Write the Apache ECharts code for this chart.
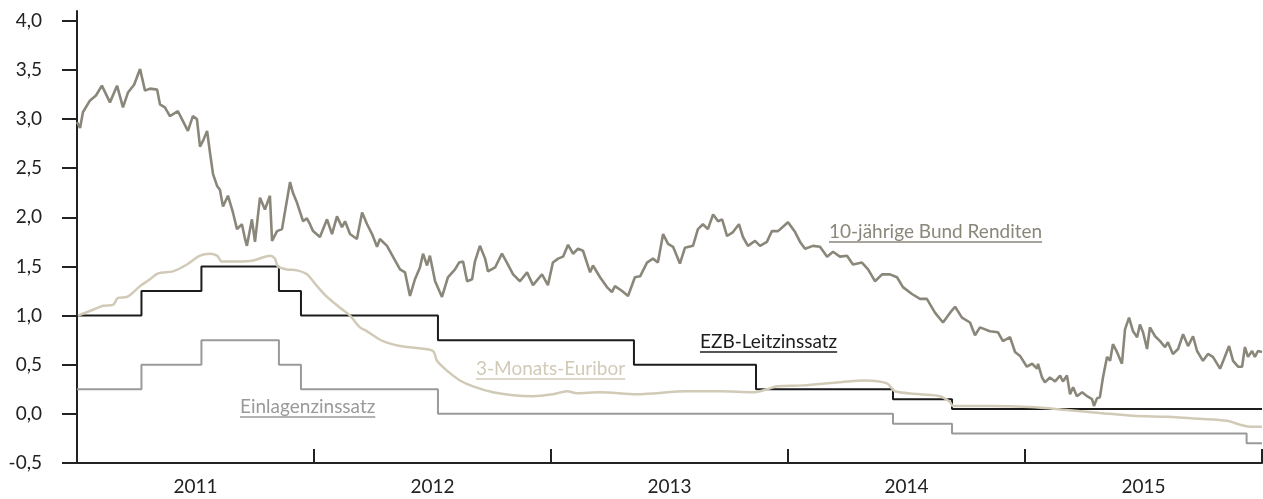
<!DOCTYPE html>
<html><head><meta charset="utf-8">
<script src="https://cdn.jsdelivr.net/npm/echarts@6/dist/echarts.min.js"></script>
<style>html,body{margin:0;padding:0;background:#fff}#c{width:1263px;height:499px}</style>
</head><body><div id="c"></div>
<script>
// ---- axis ticks / labels ----
const yTicks = [-0.5, 0, 0.5, 1, 1.5, 2, 2.5, 3, 3.5, 4];
const yearTicks = [2012, 2013, 2014, 2015, 2016];
const yearLabelPos = [2011.5, 2012.5, 2013.5, 2014.5, 2015.5];

// ---- 10-jährige Bund Renditen (decimal year, %) ----
const bundDates = [2011.000,2011.013,2011.025,2011.055,2011.080,2011.105,2011.139,2011.169,2011.194,2011.215,2011.241,2011.266,2011.287,2011.308,2011.338,2011.350,2011.371,2011.392,2011.426,2011.447,2011.468,2011.489,2011.506,2011.519,2011.532,2011.549,2011.561,2011.574,2011.591,2011.603,2011.616,2011.637,2011.658,2011.675,2011.696,2011.709,2011.717,2011.738,2011.751,2011.772,2011.793,2011.814,2011.823,2011.844,2011.865,2011.899,2011.911,2011.928,2011.954,2011.970,2011.983,2011.996,
2012.025,2012.055,2012.076,2012.097,2012.118,2012.131,2012.152,2012.181,2012.203,2012.224,2012.245,2012.266,2012.278,2012.308,2012.333,2012.363,2012.384,2012.405,2012.426,2012.447,2012.460,2012.477,2012.489,2012.511,2012.540,2012.565,2012.595,2012.612,2012.629,2012.646,2012.667,2012.679,2012.700,2012.722,2012.734,2012.764,2012.793,2012.814,2012.840,2012.869,2012.899,2012.924,2012.962,2012.987,
2013.008,2013.030,2013.051,2013.072,2013.093,2013.114,2013.135,2013.165,2013.177,2013.207,2013.236,2013.257,2013.270,2013.300,2013.325,2013.354,2013.376,2013.405,2013.430,2013.451,2013.473,2013.494,2013.515,2013.544,2013.565,2013.599,2013.620,2013.641,2013.662,2013.684,2013.705,2013.722,2013.743,2013.768,2013.793,2013.810,2013.831,2013.861,2013.882,2013.911,2013.932,2013.958,
2014.000,2014.030,2014.051,2014.072,2014.105,2014.135,2014.165,2014.190,2014.219,2014.249,2014.274,2014.312,2014.338,2014.367,2014.397,2014.430,2014.460,2014.485,2014.523,2014.557,2014.586,2014.620,2014.654,2014.684,2014.705,2014.734,2014.768,2014.789,2014.810,2014.852,2014.886,2014.907,2014.937,2014.958,2014.979,
2015.008,2015.030,2015.051,2015.055,2015.072,2015.084,2015.105,2015.127,2015.148,2015.160,2015.177,2015.190,2015.203,2015.219,2015.241,2015.262,2015.283,2015.291,2015.304,2015.316,2015.329,2015.346,2015.359,2015.371,2015.388,2015.409,2015.422,2015.439,2015.456,2015.473,2015.485,2015.498,2015.515,2015.527,2015.549,2015.570,2015.591,2015.603,2015.624,2015.646,2015.667,2015.688,2015.709,2015.726,2015.751,2015.772,2015.793,2015.823,2015.840,2015.861,2015.878,2015.899,2015.916,2015.928,2015.941,2015.958,2015.970,2015.983,2016.000];
const bundValues = [2.97,2.91,3.07,3.19,3.24,3.34,3.17,3.34,3.12,3.27,3.35,3.51,3.29,3.31,3.30,3.15,3.12,3.03,3.08,2.98,2.88,3.03,3.00,2.72,2.78,2.88,2.66,2.44,2.32,2.28,2.11,2.22,2.05,1.88,1.93,1.78,1.71,1.98,1.75,2.20,2.08,2.22,1.76,1.86,1.88,2.36,2.25,2.15,1.96,1.99,1.93,1.86,
1.80,1.98,1.83,2.01,1.90,1.96,1.83,1.78,2.05,1.93,1.83,1.70,1.78,1.71,1.60,1.47,1.44,1.20,1.37,1.49,1.63,1.51,1.61,1.35,1.19,1.39,1.47,1.54,1.55,1.35,1.37,1.55,1.71,1.58,1.45,1.49,1.63,1.54,1.42,1.35,1.44,1.31,1.42,1.31,
1.54,1.58,1.60,1.72,1.63,1.68,1.66,1.44,1.51,1.39,1.29,1.24,1.30,1.25,1.20,1.39,1.40,1.54,1.58,1.54,1.83,1.73,1.70,1.53,1.69,1.71,1.88,1.93,1.88,2.03,1.96,1.98,1.81,1.85,1.93,1.80,1.71,1.76,1.71,1.75,1.86,1.86,
1.95,1.85,1.75,1.68,1.71,1.70,1.60,1.65,1.60,1.61,1.52,1.54,1.47,1.35,1.42,1.42,1.39,1.29,1.22,1.17,1.17,1.03,0.93,1.03,1.09,0.98,0.93,0.80,0.88,0.84,0.83,0.74,0.78,0.63,0.59,
0.48,0.51,0.46,0.51,0.37,0.32,0.37,0.33,0.39,0.33,0.39,0.20,0.27,0.18,0.22,0.18,0.15,0.08,0.16,0.17,0.37,0.58,0.54,0.71,0.63,0.51,0.86,0.98,0.84,0.78,0.91,0.83,0.66,0.88,0.79,0.74,0.68,0.73,0.61,0.66,0.81,0.69,0.79,0.64,0.54,0.61,0.58,0.46,0.56,0.69,0.54,0.48,0.48,0.68,0.58,0.64,0.58,0.64,0.63];

// ---- 3-Monats-Euribor ----
const euriborDates = [2011.004,2011.068,2011.110,2011.152,2011.173,2011.211,2011.266,2011.308,2011.342,2011.405,2011.464,2011.519,2011.561,2011.591,2011.612,2011.675,2011.743,2011.814,2011.835,2011.848,2011.886,2011.928,2011.970,2012.013,2012.055,2012.110,2012.152,2012.194,2012.224,2012.291,2012.363,2012.435,2012.502,2012.519,2012.561,2012.616,2012.671,2012.755,2012.840,2012.924,2013.008,2013.068,2013.110,2013.207,2013.363,2013.574,2013.713,2013.852,2013.911,2013.954,2014.063,2014.207,2014.325,2014.418,2014.451,2014.557,2014.641,2014.684,2014.696,2014.840,2015.021,2015.177,2015.316,2015.456,2015.599,2015.738,2015.852,2015.907,2015.949,2016.000];
const euriborValues = [1.00,1.06,1.10,1.11,1.18,1.19,1.30,1.37,1.43,1.45,1.52,1.61,1.63,1.61,1.55,1.55,1.56,1.61,1.58,1.50,1.47,1.46,1.42,1.30,1.19,1.08,1.00,0.88,0.84,0.74,0.69,0.67,0.64,0.54,0.44,0.34,0.28,0.22,0.19,0.18,0.20,0.23,0.21,0.22,0.20,0.23,0.23,0.22,0.25,0.28,0.29,0.32,0.34,0.31,0.23,0.20,0.18,0.12,0.08,0.08,0.07,0.04,0.01,-0.02,-0.03,-0.05,-0.07,-0.11,-0.13,-0.13];

// ---- EZB-Leitzinssatz (step) ----
const ezbDates = [2011.000,2011.272,2011.525,2011.852,2011.945,2012.523,2013.350,2013.865,2014.443,2014.692,2016.000];
const ezbValues = [1.00,1.25,1.50,1.25,1.00,0.75,0.50,0.25,0.15,0.05,0.05];

// ---- Einlagenzinssatz (step) ----
const depositDates = [2011.000,2011.272,2011.525,2011.852,2011.945,2012.523,2014.443,2014.692,2015.935,2016.000];
const depositValues = [0.25,0.50,0.75,0.50,0.25,0.00,-0.10,-0.20,-0.30,-0.30];

const labelTexts = ['10-jährige Bund Renditen', 'EZB-Leitzinssatz', '3-Monats-Euribor', 'Einlagenzinssatz'];

const C_BUND = '#8a877a', C_EUR = '#d0cab6', C_EZB = '#1c1c1c', C_DEP = '#9a9a9c', C_AX = '#222222';
const FONT = '"Lato", "Open Sans", sans-serif';

const zip = (a, b) => a.map((d, i) => [d, b[i]]);

const chart = echarts.init(document.getElementById('c'), null, {renderer: 'canvas'});

function measure(txt, size) {
  const ctx = document.createElement('canvas').getContext('2d');
  ctx.font = size + 'px Lato';
  return ctx.measureText(txt).width;
}
const LABEL_SIZE = 19;
const labelPlace = [
  {x: 829, y: 232, color: C_BUND},
  {x: 700, y: 342, color: C_EZB},
  {x: 476, y: 369, color: C_EUR},
  {x: 240, y: 407, color: C_DEP}
];
const graphics = [];
labelTexts.forEach((t, i) => {
  const p = labelPlace[i];
  const w = measure(t, LABEL_SIZE);
  graphics.push({type: 'text', x: p.x, y: p.y, z: 100,
    style: {text: t, fill: p.color, font: LABEL_SIZE + 'px ' + FONT, align: 'left', verticalAlign: 'middle', textAlign: 'left', textVerticalAlign: 'middle'}});
  graphics.push({type: 'line', z: 100, shape: {x1: p.x, y1: p.y + 10, x2: p.x + w, y2: p.y + 10},
    style: {stroke: p.color, lineWidth: 1.5}});
});

chart.setOption({
  animation: false,
  backgroundColor: '#fff',
  grid: {left: 77, right: 1, top: 11, bottom: 36, containLabel: false},
  xAxis: {
    type: 'value', min: 2011, max: 2016,
    axisLine: {show: true, onZero: false, lineStyle: {color: C_AX, width: 2}},
    axisTick: {show: true, inside: true, length: 14, customValues: yearTicks, lineStyle: {color: C_AX, width: 2}},
    axisLabel: {show: true, customValues: yearLabelPos, margin: 14, color: C_AX, fontSize: 19, fontFamily: FONT,
      formatter: v => String(Math.floor(v))},
    splitLine: {show: false}
  },
  yAxis: {
    type: 'value', min: -0.5, max: 4.1,
    axisLine: {show: true, onZero: false, lineStyle: {color: C_AX, width: 2}},
    axisTick: {show: true, inside: false, length: 15, customValues: yTicks, lineStyle: {color: C_AX, width: 2}},
    axisLabel: {show: true, customValues: yTicks, margin: 35, color: C_AX, fontSize: 19, fontFamily: FONT,
      formatter: v => v.toFixed(1).replace('.', ',')},
    splitLine: {show: false}
  },
  series: [
    {type: 'line', name: 'Einlagenzinssatz', step: 'end', data: zip(depositDates, depositValues), showSymbol: false,
      lineStyle: {color: C_DEP, width: 2}, z: 2},
    {type: 'line', name: 'EZB-Leitzinssatz', step: 'end', data: zip(ezbDates, ezbValues), showSymbol: false,
      lineStyle: {color: C_EZB, width: 2}, z: 3},
    {type: 'line', name: '3-Monats-Euribor', smooth: 0.3, data: zip(euriborDates, euriborValues), showSymbol: false,
      lineStyle: {color: C_EUR, width: 2.5}, z: 4},
    {type: 'line', name: '10-jährige Bund Renditen', data: zip(bundDates, bundValues), showSymbol: false,
      lineStyle: {color: C_BUND, width: 2.6}, z: 5}
  ],
  graphic: graphics
});
</script>
</body></html>
